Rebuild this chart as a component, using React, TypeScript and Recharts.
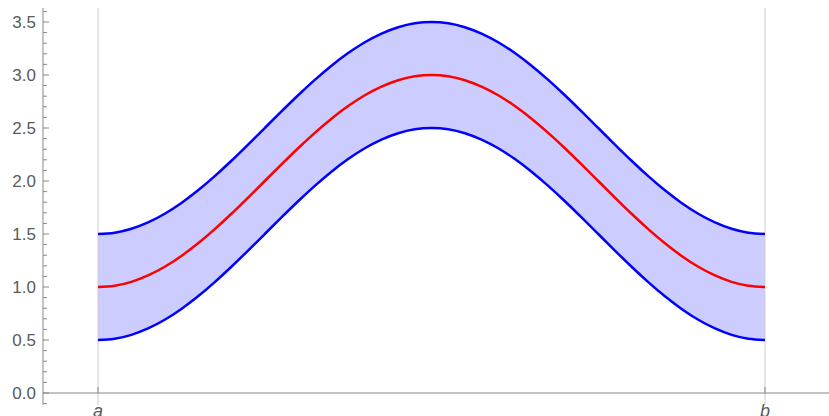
import {
  ComposedChart,
  Area,
  Line,
  XAxis,
  YAxis,
  ReferenceLine,
} from "recharts";

// sample positions between a (0) and b (1)
const xs = [
  0, 0.025, 0.05, 0.075, 0.1, 0.125, 0.15, 0.175, 0.2, 0.225, 0.25, 0.275, 0.3,
  0.325, 0.35, 0.375, 0.4, 0.425, 0.45, 0.475, 0.5, 0.525, 0.55, 0.575, 0.6,
  0.625, 0.65, 0.675, 0.7, 0.725, 0.75, 0.775, 0.8, 0.825, 0.85, 0.875, 0.9,
  0.925, 0.95, 0.975, 1,
];

// red centre curve
const mid = [
  1.0, 1.012, 1.049, 1.109, 1.191, 1.293, 1.412, 1.546, 1.691, 1.844, 2.0,
  2.156, 2.309, 2.454, 2.588, 2.707, 2.809, 2.891, 2.951, 2.988, 3.0, 2.988,
  2.951, 2.891, 2.809, 2.707, 2.588, 2.454, 2.309, 2.156, 2.0, 1.844, 1.691,
  1.546, 1.412, 1.293, 1.191, 1.109, 1.049, 1.012, 1.0,
];

// blue upper bound
const upper = [
  1.5, 1.512, 1.549, 1.609, 1.691, 1.793, 1.912, 2.046, 2.191, 2.344, 2.5,
  2.656, 2.809, 2.954, 3.088, 3.207, 3.309, 3.391, 3.451, 3.488, 3.5, 3.488,
  3.451, 3.391, 3.309, 3.207, 3.088, 2.954, 2.809, 2.656, 2.5, 2.344, 2.191,
  2.046, 1.912, 1.793, 1.691, 1.609, 1.549, 1.512, 1.5,
];

// blue lower bound
const lower = [
  0.5, 0.512, 0.549, 0.609, 0.691, 0.793, 0.912, 1.046, 1.191, 1.344, 1.5,
  1.656, 1.809, 1.954, 2.088, 2.207, 2.309, 2.391, 2.451, 2.488, 2.5, 2.488,
  2.451, 2.391, 2.309, 2.207, 2.088, 1.954, 1.809, 1.656, 1.5, 1.344, 1.191,
  1.046, 0.912, 0.793, 0.691, 0.609, 0.549, 0.512, 0.5,
];

const xTickValues = [0, 1];
const xTickLabels = ["a", "b"];

// y ticks every 0.1, labels every 0.5
const yTicks: number[] = [];
for (let i = -1; i <= 36; i++) yTicks.push(i / 10);

const AXIS = "#888888";
const GRID = "#cccccc";
const LABEL = "#5a5a5a";
const FONT = "'Liberation Sans', Arial, sans-serif";

const data = xs.map((x, i) => ({
  x,
  mid: mid[i],
  upper: upper[i],
  lower: lower[i],
  band: [lower[i], upper[i]],
}));

function YTick(props: any) {
  const { x, y, payload } = props;
  const v = payload.value as number;
  const major = Math.round(v * 10) % 5 === 0;
  return (
    <g>
      <line x1={x} x2={x + (major ? 6 : 4)} y1={y} y2={y} stroke={AXIS} />
      {major && (
        <text
          x={x - 7}
          y={y}
          dy="0.36em"
          textAnchor="end"
          fontSize={17}
          fontFamily={FONT}
          fill={LABEL}
        >
          {v.toFixed(1)}
        </text>
      )}
    </g>
  );
}

function XLabel(props: any) {
  const { viewBox, value } = props;
  return (
    <text
      x={viewBox.x}
      y={417}
      textAnchor="middle"
      fontSize={18}
      fontStyle="italic"
      fontFamily={FONT}
      fill={LABEL}
    >
      {value}
    </text>
  );
}

export default function App() {
  return (
    <div style={{ position: "absolute", left: 0, top: 0 }}>
      <ComposedChart
        width={829}
        height={416}
        data={data}
        margin={{ top: 8, right: 0, bottom: 11, left: 0 }}
      >
        <XAxis
          type="number"
          dataKey="x"
          domain={[-0.0825, 1.096]}
          allowDataOverflow
          hide
        />
        <YAxis
          type="number"
          domain={[-0.113, 3.632]}
          allowDataOverflow
          ticks={yTicks}
          interval={0}
          tick={<YTick />}
          tickSize={0}
          tickMargin={0}
          tickLine={false}
          axisLine={{ stroke: AXIS }}
          width={43}
        />
        {xTickValues.map((v, i) => (
          <ReferenceLine
            key={"g" + v}
            x={v}
            stroke={GRID}
            label={<XLabel value={xTickLabels[i]} />}
          />
        ))}
        <ReferenceLine y={0} stroke={AXIS} />
        {xTickValues.map((v) => (
          <ReferenceLine
            key={"t" + v}
            segment={[
              { x: v, y: 0 },
              { x: v, y: 0.057 },
            ]}
            stroke={AXIS}
          />
        ))}
        <Area
          type="natural"
          dataKey="band"
          fill="#ccccff"
          fillOpacity={1}
          stroke="none"
          isAnimationActive={false}
        />
        <Line
          type="natural"
          dataKey="upper"
          stroke="#0000ff"
          strokeWidth={2.5}
          dot={false}
          isAnimationActive={false}
        />
        <Line
          type="natural"
          dataKey="lower"
          stroke="#0000ff"
          strokeWidth={2.5}
          dot={false}
          isAnimationActive={false}
        />
        <Line
          type="natural"
          dataKey="mid"
          stroke="#ff0000"
          strokeWidth={2.5}
          dot={false}
          isAnimationActive={false}
        />
      </ComposedChart>
    </div>
  );
}
